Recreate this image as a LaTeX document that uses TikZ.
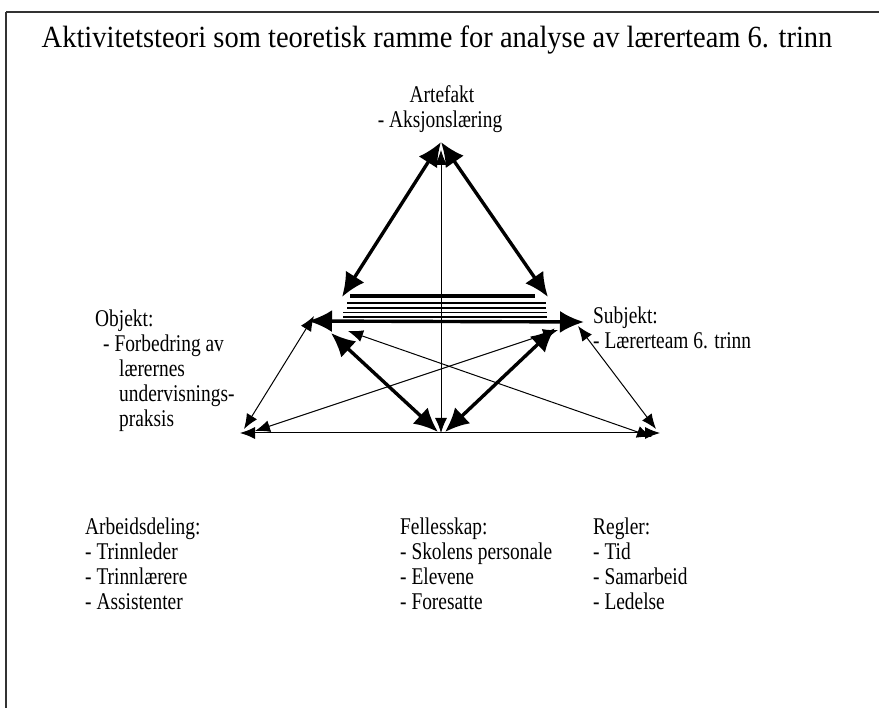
\documentclass[tikz,border=0pt]{standalone}
\usepackage{fontspec}
\usepackage{graphicx}
\setmainfont{Liberation Serif}
\usetikzlibrary{arrows.meta}
\newcommand{\vstr}[1]{\scalebox{0.97}[1.2]{#1}}
\begin{document}
\begin{tikzpicture}[x=1pt,y=-1pt,
  txt/.style={inner sep=0pt,font=\fontsize{20}{24}\selectfont},
  ltxt/.style={txt,anchor=base west},
  thickarr/.style={line width=3.4pt,{Latex[length=24pt,width=22pt]}-{Latex[length=24pt,width=22pt]}},
  thinarr/.style={line width=1pt,{Latex[length=15pt,width=12pt]}-{Latex[length=15pt,width=12pt]}},
  dbl/.style={double=white,double distance=3pt,line width=1.6pt}]
\useasboundingbox (0,0) rectangle (879,708);
\draw[line width=1.5pt,black!80] (6,12) -- (890,12);
\draw[line width=1.5pt,black!80] (6,12) -- (6,720);
% title
\node[txt,anchor=base,font=\fontsize{28.5}{32}\selectfont] (title) at (437,48) {\scalebox{1}[1.08]{Aktivitetsteori som teoretisk ramme for analyse av lærerteam 6. trinn}};
% labels
\node[txt,anchor=base] (art1) at (442,103) {\vstr{Artefakt}};
\node[txt,anchor=base] (art2) at (440,128) {\vstr{- Aksjonslæring}};
\node[ltxt] (obj1) at (95,327) {\vstr{Objekt:}};
\node[ltxt] (obj2) at (103,352) {\vstr{- Forbedring av}};
\node[ltxt] (obj3) at (119,377) {\vstr{lærernes}};
\node[ltxt] (obj4) at (119,402) {\vstr{undervisnings-}};
\node[ltxt] (obj5) at (119,427) {\vstr{praksis}};
\node[ltxt] (sub1) at (593,324) {\vstr{Subjekt:}};
\node[ltxt] (sub2) at (593,349) {\vstr{- Lærerteam 6. trinn}};
\node[ltxt] (arb1) at (85,535) {\vstr{Arbeidsdeling:}};
\node[ltxt] (arb2) at (85,560) {\vstr{- Trinnleder}};
\node[ltxt] (arb3) at (85,584) {\vstr{- Trinnlærere}};
\node[ltxt] (arb4) at (85,609) {\vstr{- Assistenter}};
\node[ltxt] (fel1) at (400,535) {\vstr{Fellesskap:}};
\node[ltxt] (fel2) at (400,560) {\vstr{- Skolens personale}};
\node[ltxt] (fel3) at (400,584) {\vstr{- Elevene}};
\node[ltxt] (fel4) at (400,609) {\vstr{- Foresatte}};
\node[ltxt] (reg1) at (593,535) {\vstr{Regler:}};
\node[ltxt] (reg2) at (593,560) {\vstr{- Tid}};
\node[ltxt] (reg3) at (593,584) {\vstr{- Samarbeid}};
\node[ltxt] (reg4) at (593,609) {\vstr{- Ledelse}};
% points
\coordinate (A) at (441,142);
\coordinate (Av) at (441,150);
\coordinate (L1) at (342,297);
\coordinate (R1) at (548,297);
\coordinate (O) at (308,321);
\coordinate (S) at (584,322);
\coordinate (Ot) at (314,316);
\coordinate (St) at (578,326);
\coordinate (BL) at (240,433);
\coordinate (BR) at (660,433);
\coordinate (BLt) at (244,429);
\coordinate (BRt) at (656,429);
\coordinate (BC) at (441,433);
\coordinate (BCl) at (438,432);
\coordinate (BCr) at (445,432);
\coordinate (Lx) at (331,333);
\coordinate (Rx) at (555,328);
\coordinate (Lc) at (348,331);
\coordinate (Rc) at (558,330);
\coordinate (BLc) at (255,431);
\coordinate (BRc) at (652,437);
% horizontal stacked lines
\draw[line width=3.2pt] (350,296) -- (535,296);
\draw[dbl] (347,305.5) -- (546,305.5);
\draw[dbl] (343,315) -- (547,315);
\draw[thickarr] (O) -- (S);
% top triangle
\draw[thickarr] (A) -- (L1);
\draw[thickarr] (A) -- (R1);
\draw[thinarr] (Av) -- (BC);
% lower
\draw[thickarr] (Lx) -- (BCl);
\draw[thickarr] (Rx) -- (BCr);
\draw[thinarr] (Ot) -- (BLt);
\draw[thinarr] (St) -- (BRt);
\draw[thinarr] (Lc) -- (BRc);
\draw[thinarr] (Rc) -- (BLc);
\draw[thinarr] (BL) -- (BR);
\end{tikzpicture}
\end{document}
